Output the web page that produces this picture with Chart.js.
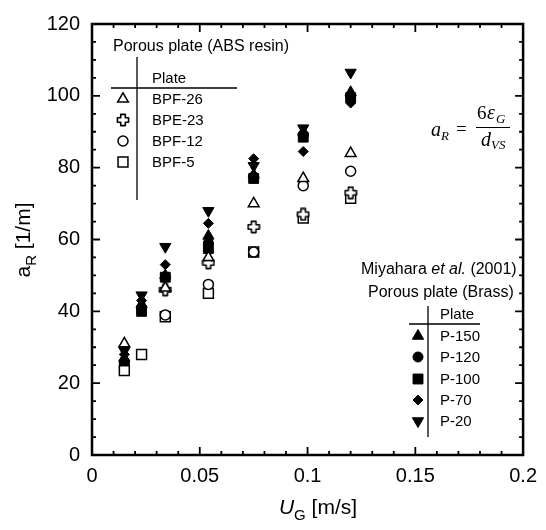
<!DOCTYPE html>
<html>
<head>
<meta charset="utf-8">
<script src="https://cdn.jsdelivr.net/npm/chart.js@4.4.0/dist/chart.umd.min.js"></script>
<style>
  html, body { margin: 0; padding: 0; background: #fff; }
</style>
</head>
<body>
<canvas id="chart" width="546" height="530"></canvas>
<script>
// superficial gas velocity U_G [m/s]
const ugValues = [0.015, 0.023, 0.034, 0.054, 0.075, 0.098, 0.12];

// porous plate (ABS resin), open symbols; null = no point
const bpf26 = [31, null, 46.5, 55, 70, 77, 84];
const bpe23 = [null, null, 46, 53.5, 63.5, 67, 73];
const bpf12 = [null, null, 39, 47.5, 56.5, 75, 79];
const bpf5 = [23.5, 28, 38.5, 45, 56.5, 66, 71.5];

// Miyahara et al. (2001), porous plate (brass), filled symbols
const p150 = [27, 42, 50, 61, 78, 90, 101];
const p120 = [26, 41, 49.5, 59, 77.5, 89, 100];
const p100 = [25, 40, 49.5, 57.5, 77, 88.5, 99.5];
const p70 = [28, 43, 53, 64.5, 82.5, 84.5, 98];
const p20 = [29, 44.5, 58, 68, 80.5, 91, 106.5];

const xTicks = [0, 0.05, 0.1, 0.15, 0.2];
const yTicks = [0, 20, 40, 60, 80, 100, 120];

const FONT = "'Liberation Sans', Arial, sans-serif";
const SERIF = "'Liberation Serif', 'Times New Roman', serif";

// outlined plus sign used for BPE-23
function makeCross() {
  const c = document.createElement("canvas");
  c.width = c.height = 14;
  const g = c.getContext("2d");
  const m = 7, h = 2.3, L = 5.6;
  g.beginPath();
  g.moveTo(m - h, m - L); g.lineTo(m + h, m - L); g.lineTo(m + h, m - h);
  g.lineTo(m + L, m - h); g.lineTo(m + L, m + h); g.lineTo(m + h, m + h);
  g.lineTo(m + h, m + L); g.lineTo(m - h, m + L); g.lineTo(m - h, m + h);
  g.lineTo(m - L, m + h); g.lineTo(m - L, m - h); g.lineTo(m - h, m - h);
  g.closePath();
  g.fillStyle = "#fff";
  g.fill();
  g.lineWidth = 1.6;
  g.lineJoin = "round";
  g.strokeStyle = "#000";
  g.stroke();
  return c;
}
const crossImg = makeCross();

function pts(ys) {
  return ugValues.map((x, i) => ({ x: x, y: ys[i] })).filter(p => p.y !== null);
}

const openMarks = [
  { label: "BPF-26", data: bpf26, style: "triangle", r: 6.2, rot: 0 },
  { label: "BPE-23", data: bpe23, style: crossImg, r: 6, rot: 0 },
  { label: "BPF-12", data: bpf12, style: "circle", r: 5, rot: 0 },
  { label: "BPF-5", data: bpf5, style: "rect", r: 7, rot: 0 },
];
const filledMarks = [
  { label: "P-150", data: p150, style: "triangle", r: 6.5, rot: 0 },
  { label: "P-120", data: p120, style: "circle", r: 5, rot: 0 },
  { label: "P-100", data: p100, style: "rect", r: 7, rot: 0 },
  { label: "P-70", data: p70, style: "rectRot", r: 5, rot: 0 },
  { label: "P-20", data: p20, style: "triangle", r: 6.5, rot: 180 },
];

// first dataset is drawn on top in Chart.js, so open symbols go first
const datasets = [];
openMarks.forEach(m => datasets.push({
  label: m.label, data: pts(m.data), pointStyle: m.style, pointRadius: m.r,
  pointRotation: m.rot, pointBackgroundColor: "#fff", pointBorderColor: "#000",
  pointBorderWidth: 1.5, showLine: false,
}));
filledMarks.forEach(m => datasets.push({
  label: m.label, data: pts(m.data), pointStyle: m.style, pointRadius: m.r,
  pointRotation: m.rot, pointBackgroundColor: "#000", pointBorderColor: "#000",
  pointBorderWidth: 1, showLine: false,
}));

function mark(ctx, m, x, y, filled) {
  ctx.save();
  ctx.fillStyle = filled ? "#000" : "#fff";
  ctx.strokeStyle = "#000";
  ctx.lineWidth = filled ? 1 : 1.5;
  Chart.helpers.drawPoint(ctx, { pointStyle: m.style, radius: m.r, rotation: m.rot, borderWidth: 1 }, x, y);
  ctx.restore();
}

// frame, inward ticks, axis titles and the two text legends
const decor = {
  id: "decor",
  afterDraw(chart) {
    const { ctx, chartArea: a, scales } = chart;
    const xs = scales.x, ys = scales.y;
    ctx.save();
    ctx.strokeStyle = "#000";
    ctx.lineWidth = 2.5;
    ctx.strokeRect(a.left, a.top, a.right - a.left, a.bottom - a.top);
    ctx.lineWidth = 1.8;
    ctx.beginPath();
    for (let i = 0; i <= 20; i++) {
      const px = xs.getPixelForValue(i * 0.01);
      const len = i % 5 === 0 ? 8 : 4;
      ctx.moveTo(px, a.bottom); ctx.lineTo(px, a.bottom - len);
      ctx.moveTo(px, a.top); ctx.lineTo(px, a.top + len);
    }
    for (let v = 0; v <= 120; v += 5) {
      const py = ys.getPixelForValue(v);
      const len = v % 20 === 0 ? 8 : 4;
      ctx.moveTo(a.left, py); ctx.lineTo(a.left + len, py);
      ctx.moveTo(a.right, py); ctx.lineTo(a.right - len, py);
    }
    ctx.stroke();

    ctx.fillStyle = "#000";
    ctx.textBaseline = "alphabetic";

    // y title: a_R [1/m]
    ctx.save();
    ctx.translate(30, 240);
    ctx.rotate(-Math.PI / 2);
    ctx.font = "21px " + FONT;
    const wa = ctx.measureText("a").width;
    const wt = ctx.measureText(" [1/m]").width;
    ctx.font = "15px " + FONT;
    const wr = ctx.measureText("R").width;
    let sx = -(wa + wr + wt) / 2;
    ctx.font = "21px " + FONT;
    ctx.fillText("a", sx, 0);
    ctx.font = "15px " + FONT;
    ctx.fillText("R", sx + wa, 6);
    ctx.font = "21px " + FONT;
    ctx.fillText(" [1/m]", sx + wa + wr, 0);
    ctx.restore();

    // x title: U_G [m/s]
    ctx.font = "italic 21px " + FONT;
    const wu = ctx.measureText("U").width;
    ctx.font = "15px " + FONT;
    const wg = ctx.measureText("G").width;
    ctx.font = "21px " + FONT;
    const wm = ctx.measureText(" [m/s]").width;
    let tx = 318 - (wu + wg + wm) / 2;
    ctx.font = "italic 21px " + FONT;
    ctx.fillText("U", tx, 514);
    ctx.font = "15px " + FONT;
    ctx.fillText("G", tx + wu, 520);
    ctx.font = "21px " + FONT;
    ctx.fillText(" [m/s]", tx + wu + wg, 514);

    // ABS resin legend
    ctx.font = "16px " + FONT;
    ctx.fillText("Porous plate (ABS resin)", 113, 51);
    ctx.font = "15px " + FONT;
    ctx.fillText("Plate", 152, 83);
    ctx.lineWidth = 1.3;
    ctx.beginPath();
    ctx.moveTo(111, 88); ctx.lineTo(237, 88);
    ctx.moveTo(137, 57); ctx.lineTo(137, 200);
    ctx.stroke();
    const rowsA = [99, 120, 141, 162];
    openMarks.forEach((m, i) => {
      mark(ctx, m, 123, rowsA[i], false);
      ctx.fillStyle = "#000";
      ctx.font = "15px " + FONT;
      ctx.fillText(m.label, 152, rowsA[i] + 5);
    });

    // Miyahara legend
    ctx.font = "16px " + FONT;
    ctx.fillText("Miyahara ", 361, 274);
    let mx = 361 + ctx.measureText("Miyahara ").width;
    ctx.font = "italic 16px " + FONT;
    ctx.fillText("et al.", mx, 274);
    mx += ctx.measureText("et al.").width;
    ctx.font = "16px " + FONT;
    ctx.fillText(" (2001)", mx, 274);
    ctx.fillText("Porous plate (Brass)", 368, 297);
    ctx.font = "15px " + FONT;
    ctx.fillText("Plate", 440, 319);
    ctx.beginPath();
    ctx.moveTo(409, 324); ctx.lineTo(480, 324);
    ctx.moveTo(428, 306); ctx.lineTo(428, 437);
    ctx.stroke();
    const rowsB = [336, 357, 379, 400, 421];
    filledMarks.forEach((m, i) => {
      mark(ctx, m, 418, rowsB[i], true);
      ctx.fillStyle = "#000";
      ctx.font = "15px " + FONT;
      ctx.fillText(m.label, 440, rowsB[i] + 5);
    });

    // formula a_R = 6 eps_G / d_VS
    ctx.font = "italic 20px " + SERIF;
    ctx.fillText("a", 431, 136);
    ctx.font = "italic 13px " + SERIF;
    ctx.fillText("R", 441, 140);
    ctx.font = "19px " + SERIF;
    ctx.fillText("=", 456, 135);
    ctx.fillText("6", 477, 119);
    ctx.font = "italic 20px " + SERIF;
    ctx.fillText("\u03b5", 487, 119);
    ctx.font = "italic 13px " + SERIF;
    ctx.fillText("G", 496, 123);
    ctx.lineWidth = 1.2;
    ctx.beginPath();
    ctx.moveTo(476, 127.5); ctx.lineTo(510, 127.5);
    ctx.stroke();
    ctx.font = "italic 20px " + SERIF;
    ctx.fillText("d", 481, 146);
    ctx.font = "italic 13px " + SERIF;
    ctx.fillText("VS", 491, 149);
    ctx.restore();
  },
};

new Chart(document.getElementById("chart"), {
  type: "scatter",
  data: { datasets: datasets },
  options: {
    responsive: false,
    animation: false,
    devicePixelRatio: 1,
    layout: { padding: { left: 0, right: 18, top: 19, bottom: 0 } },
    plugins: { legend: { display: false }, tooltip: { enabled: false } },
    scales: {
      x: {
        type: "linear", min: 0, max: 0.2,
        afterBuildTicks: s => { s.ticks = xTicks.map(v => ({ value: v })); },
        afterFit: s => { s.height = 75; },
        grid: { display: false, drawTicks: false },
        border: { display: false },
        ticks: {
          color: "#000", font: { family: FONT, size: 20 }, padding: 9,
          maxRotation: 0, autoSkip: false,
          callback: v => String(+Number(v).toFixed(2)),
        },
      },
      y: {
        min: 0, max: 120,
        afterBuildTicks: s => { s.ticks = yTicks.map(v => ({ value: v })); },
        afterFit: s => { s.width = 92; },
        grid: { display: false, drawTicks: false },
        border: { display: false },
        ticks: { color: "#000", font: { family: FONT, size: 20 }, padding: 12 },
      },
    },
  },
  plugins: [decor],
});
</script>
</body>
</html>
